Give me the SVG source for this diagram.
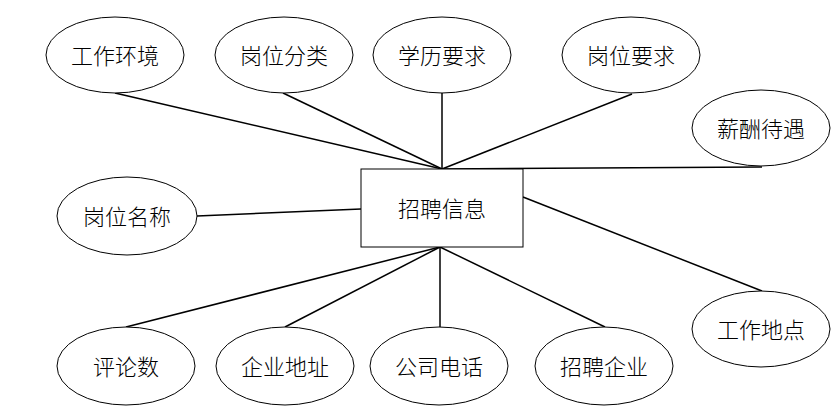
<svg xmlns="http://www.w3.org/2000/svg" width="835" height="412" viewBox="0 0 835 412">
<style>
.n ellipse,.n rect{fill:#fff;stroke:#000;stroke-width:1}
.n text{font-family:"Noto Sans CJK SC","Liberation Sans",sans-serif;font-size:22px;font-weight:300;fill:#000;text-anchor:middle;dominant-baseline:central}
#edges line{stroke:#000;stroke-width:1.5}
</style>
<rect width="835" height="412" fill="#fff"/>
<g id="edges">
<line x1="115" y1="93" x2="442" y2="169"/>
<line x1="283" y1="93" x2="442" y2="169"/>
<line x1="442" y1="93" x2="442" y2="169"/>
<line x1="632" y1="94" x2="442" y2="169"/>
<line x1="442" y1="169" x2="762" y2="167"/>
<line x1="197" y1="216" x2="361" y2="209"/>
<line x1="523" y1="197" x2="762" y2="291"/>
<line x1="440" y1="247" x2="126" y2="327"/>
<line x1="440" y1="247" x2="285" y2="327"/>
<line x1="440" y1="247" x2="440" y2="327"/>
<line x1="440" y1="247" x2="605" y2="327"/>
</g>
<g id="n_gzhj" class="n"><ellipse cx="115" cy="55" rx="69" ry="38"/><text x="115" y="54">工作环境</text></g>
<g id="n_gwfl" class="n"><ellipse cx="284" cy="55" rx="69" ry="38"/><text x="284" y="54">岗位分类</text></g>
<g id="n_xlyq" class="n"><ellipse cx="442" cy="55" rx="69" ry="38"/><text x="442" y="54">学历要求</text></g>
<g id="n_gwyq" class="n"><ellipse cx="631" cy="55" rx="69" ry="38"/><text x="631" y="54">岗位要求</text></g>
<g id="n_xcdy" class="n"><ellipse cx="761" cy="128" rx="69" ry="38"/><text x="761" y="127">薪酬待遇</text></g>
<g id="n_zpxx" class="n"><rect x="361" y="169" width="162" height="78"/><text x="442" y="207">招聘信息</text></g>
<g id="n_gwmc" class="n"><ellipse cx="127" cy="216" rx="70" ry="39"/><text x="127" y="215">岗位名称</text></g>
<g id="n_gzdd" class="n"><ellipse cx="761" cy="329" rx="69" ry="38"/><text x="761" y="328">工作地点</text></g>
<g id="n_pls" class="n"><ellipse cx="126" cy="366" rx="69" ry="39"/><text x="126" y="365">评论数</text></g>
<g id="n_qydz" class="n"><ellipse cx="285" cy="366" rx="69" ry="39"/><text x="285" y="365">企业地址</text></g>
<g id="n_gsdh" class="n"><ellipse cx="439" cy="366" rx="69" ry="39"/><text x="439" y="365">公司电话</text></g>
<g id="n_zpqy" class="n"><ellipse cx="604" cy="366" rx="69" ry="39"/><text x="604" y="365">招聘企业</text></g>
</svg>
